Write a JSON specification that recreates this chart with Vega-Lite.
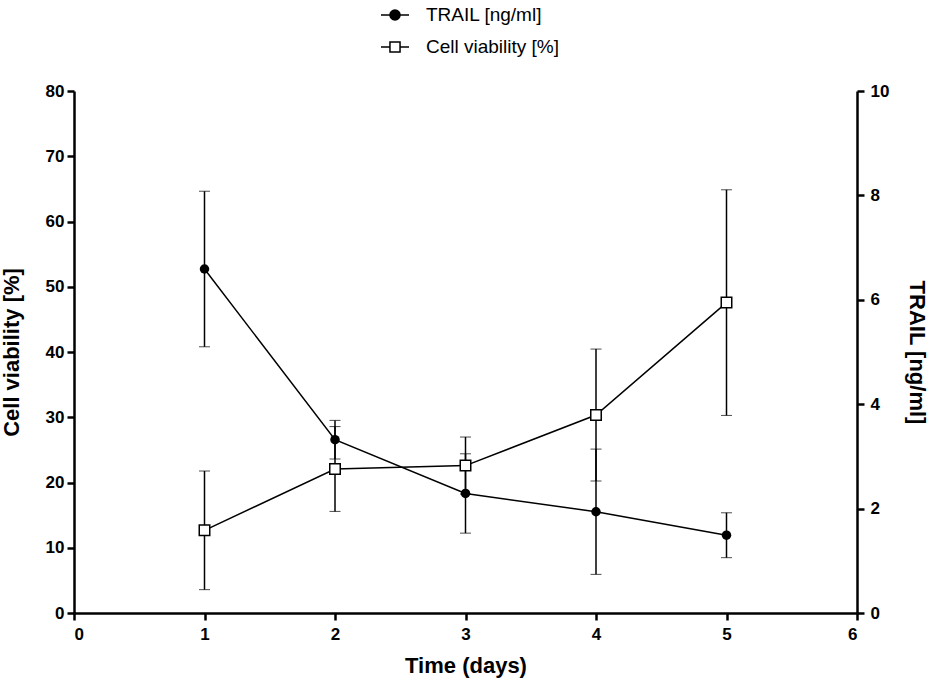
{
  "$schema": "https://vega.github.io/schema/vega-lite/v6.json",
  "autosize": "none",
  "width": 783,
  "height": 522,
  "padding": {"left": 74, "top": 91, "right": 73, "bottom": 70},
  "background": "white",
  "data": {
    "values": [
      {"day": 1, "series": "TRAIL [ng/ml]", "mean": 6.59, "sd": 1.49},
      {"day": 2, "series": "TRAIL [ng/ml]", "mean": 3.32, "sd": 0.37},
      {"day": 3, "series": "TRAIL [ng/ml]", "mean": 2.29, "sd": 0.76},
      {"day": 4, "series": "TRAIL [ng/ml]", "mean": 1.94, "sd": 1.2},
      {"day": 5, "series": "TRAIL [ng/ml]", "mean": 1.49, "sd": 0.43},
      {"day": 1, "series": "Cell viability [%]", "mean": 12.67, "sd": 9.09},
      {"day": 2, "series": "Cell viability [%]", "mean": 22.07, "sd": 6.5},
      {"day": 3, "series": "Cell viability [%]", "mean": 22.59, "sd": 4.38},
      {"day": 4, "series": "Cell viability [%]", "mean": 30.34, "sd": 10.11},
      {"day": 5, "series": "Cell viability [%]", "mean": 47.57, "sd": 17.29}
    ]
  },
  "encoding": {
    "x": {
      "field": "day",
      "type": "quantitative",
      "title": "Time (days)",
      "scale": {"domain": [0, 6], "nice": false},
      "axis": {"values": [0, 1, 2, 3, 4, 5, 6], "titlePadding": 13, "labelPadding": 6}
    }
  },
  "layer": [
    {
      "transform": [{"filter": "datum.series === 'Cell viability [%]'"}],
      "encoding": {
        "y": {
          "field": "mean",
          "type": "quantitative",
          "title": "Cell viability [%]",
          "scale": {"domain": [0, 80], "nice": false},
          "axis": {"orient": "left", "values": [0, 10, 20, 30, 40, 50, 60, 70, 80], "labelPadding": 3, "titlePadding": 22}
        }
      },
      "layer": [
        {
          "mark": {"type": "errorbar", "ticks": {"size": 11, "color": "black"}, "rule": {"strokeWidth": 1.5}, "color": "black"},
          "encoding": {"yError": {"field": "sd"}}
        },
        {
          "mark": {"type": "line", "color": "black", "strokeWidth": 1.5},
          "encoding": {}
        }
      ]
    },
    {
      "encoding": {
        "y": {
          "field": "mean",
          "type": "quantitative",
          "title": "TRAIL [ng/ml]",
          "scale": {"domain": [0, 10], "nice": false},
          "axis": {"orient": "right", "values": [0, 2, 4, 6, 8, 10], "titleAngle": 90, "labelPadding": 6}
        }
      },
      "layer": [
        {
          "transform": [{"filter": "datum.series === 'TRAIL [ng/ml]'"}],
          "mark": {"type": "errorbar", "ticks": {"size": 11, "color": "black"}, "rule": {"strokeWidth": 1.5}, "color": "black"},
          "encoding": {"yError": {"field": "sd"}}
        },
        {
          "transform": [{"filter": "datum.series === 'TRAIL [ng/ml]'"}],
          "mark": {"type": "line", "color": "black", "strokeWidth": 1.5},
          "encoding": {}
        },
        {
          "transform": [{"filter": "datum.series === 'TRAIL [ng/ml]'"}],
          "mark": {"type": "point", "shape": "circle", "filled": true, "color": "black", "size": 90, "opacity": 1},
          "encoding": {}
        },
        {
          "mark": {"type": "point", "strokeWidth": 1.5, "size": 0, "opacity": 1},
          "encoding": {
            "shape": {
              "field": "series",
              "type": "nominal",
              "scale": {
                "domain": ["TRAIL [ng/ml]", "Cell viability [%]"],
                "range": [
                  "M-1,0H-0.36A0.36,0.36 0 1,1 0.36,0A0.36,0.36 0 1,1 -0.36,0M0.36,0H1",
                  "M-1,0H-0.36M0.36,0H1M-0.36,-0.36H0.36V0.36H-0.36Z"
                ]
              },
              "legend": {
                "title": null,
                "orient": "none",
                "legendX": 306,
                "legendY": -91,
                "direction": "vertical",
                "symbolSize": 784,
                "symbolStrokeWidth": 1.5,
                "symbolOpacity": 1,
                "labelFontSize": 19,
                "labelFont": "Liberation Sans",
                "labelColor": "black",
                "labelOffset": 16,
                "rowPadding": 7
              }
            },
            "fill": {
              "field": "series",
              "type": "nominal",
              "scale": {"domain": ["TRAIL [ng/ml]", "Cell viability [%]"], "range": ["black", "white"]},
              "legend": {
                "title": null,
                "orient": "none",
                "legendX": 306,
                "legendY": -91,
                "direction": "vertical",
                "symbolSize": 784,
                "symbolStrokeWidth": 1.5,
                "symbolOpacity": 1,
                "labelFontSize": 19,
                "labelFont": "Liberation Sans",
                "labelColor": "black",
                "labelOffset": 16,
                "rowPadding": 7
              }
            },
            "stroke": {
              "field": "series",
              "type": "nominal",
              "scale": {"domain": ["TRAIL [ng/ml]", "Cell viability [%]"], "range": ["black", "black"]},
              "legend": {
                "title": null,
                "orient": "none",
                "legendX": 306,
                "legendY": -91,
                "direction": "vertical",
                "symbolSize": 784,
                "symbolStrokeWidth": 1.5,
                "symbolOpacity": 1,
                "labelFontSize": 19,
                "labelFont": "Liberation Sans",
                "labelColor": "black",
                "labelOffset": 16,
                "rowPadding": 7
              }
            }
          }
        }
      ]
    },
    {
      "transform": [{"filter": "datum.series === 'Cell viability [%]'"}],
      "mark": {"type": "point", "shape": "square", "filled": true, "fill": "white", "stroke": "black", "strokeWidth": 1.5, "size": 110, "opacity": 1},
      "encoding": {
        "y": {
          "field": "mean",
          "type": "quantitative",
          "scale": {"domain": [0, 80], "nice": false},
          "axis": null
        }
      }
    }
  ],
  "resolve": {"scale": {"y": "independent"}},
  "config": {
    "font": "Liberation Sans",
    "view": {"stroke": null},
    "axis": {
      "grid": false,
      "domainColor": "black",
      "domainWidth": 2.5,
      "tickColor": "black",
      "tickWidth": 2.5,
      "tickSize": 7,
      "labelFont": "Liberation Sans",
      "labelFontSize": 17,
      "labelFontWeight": "bold",
      "labelColor": "black",
      "labelPadding": 4,
      "titleFont": "Liberation Sans",
      "titleFontSize": 22,
      "titleFontWeight": "bold",
      "titleColor": "black",
      "titlePadding": 16
    }
  }
}
